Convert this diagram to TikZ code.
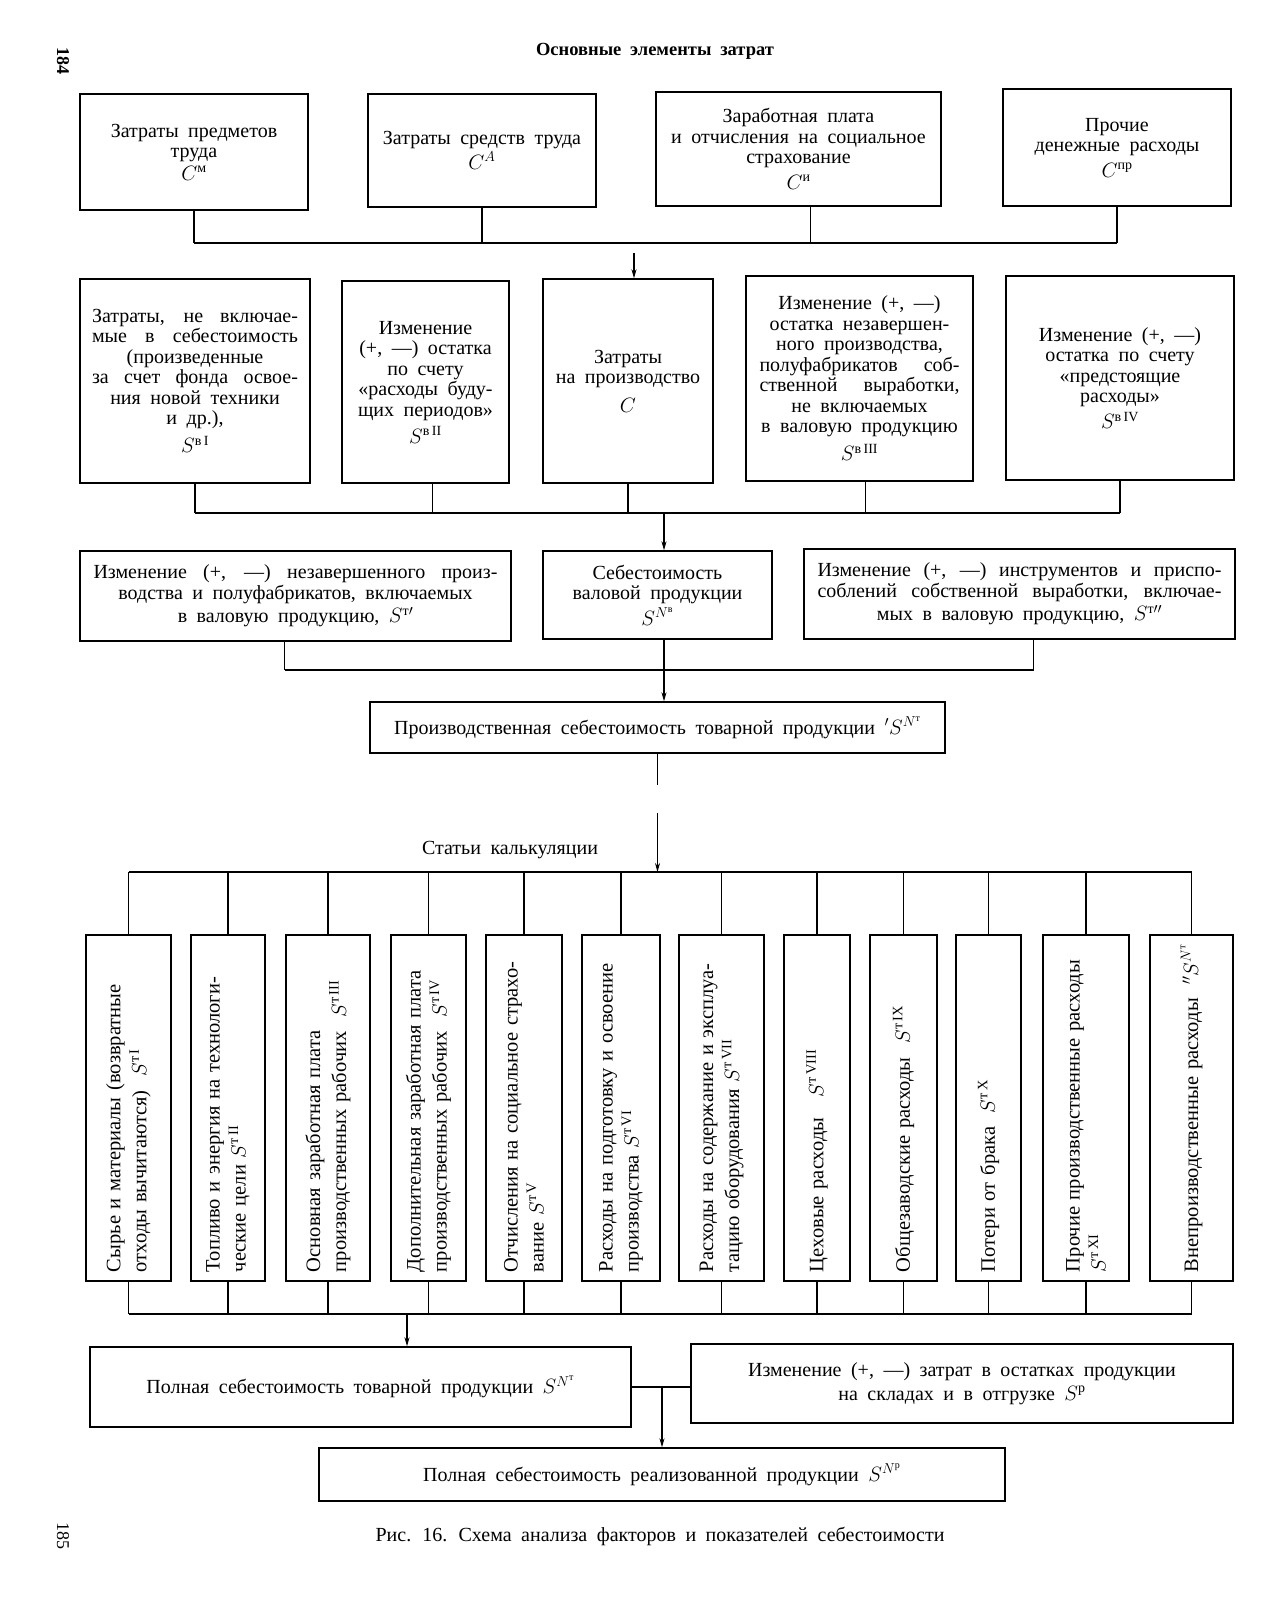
\documentclass[tikz,border=0pt]{standalone}
\usepackage{amsmath}
\usepackage{fontspec}
\setmainfont{Liberation Serif}[WordSpace=1.9]
\newfontfamily\rotfont{Liberation Serif}[WordSpace=1.7]
\usetikzlibrary{arrows.meta}
\newcommand{\tsup}{\text{т}}
\begin{document}
\begin{tikzpicture}[x=1pt,y=-1pt,
  every node/.style={font=\fontsize{20}{20.5}\selectfont, inner sep=0pt},
  ln/.style={line width=1.3pt},
  arr/.style={line width=1.3pt,-{Stealth[length=9pt,width=5pt]}},
  box/.style={draw, line width=1.4pt, align=center},
  vbox/.style={draw, line width=1.4pt, rotate=90, align=left, minimum width=346, text width=328, inner xsep=9pt,
     font=\rotfont\fontsize{20.5}{26}\selectfont}]
\fill[white] (0,0) rectangle (1283,1600);
\useasboundingbox (0,0) rectangle (1283,1600);

% page numbers and titles
\node[rotate=-90, font=\fontsize{18}{18}\bfseries] (p184) at (63,61) {184};
\node[rotate=-90, font=\fontsize{18}{18}\selectfont] (p185) at (63,1536) {185};
\node[font=\fontsize{18.5}{18.5}\bfseries] (ttl) at (655,51) {Основные элементы затрат};

% row 1
\node[box, minimum width=228, minimum height=116] (b11) at (194,152) {Затраты предметов\\труда\\[2pt]$C^{\text{м}}$};
\node[box, minimum width=228, minimum height=113] (b12) at (482,150.5) {Затраты средств труда\\[2pt]$C^{A}$};
\node[box, minimum width=285, minimum height=114] (b13) at (798.5,149) {Заработная плата\\и отчисления на социальное\\страхование\\[5pt]$C^{\text{и}}$};
\node[box, minimum width=228, minimum height=117] (b14) at (1117,147.5) {Прочие\\денежные расходы\\[5pt]$C^{\text{пр}}$};

\coordinate (j1) at (0,243);
\foreach \b/\s in {b11/0,b12/0,b13/12,b14/0} \draw[ln] ([xshift=\s pt]\b.south) -- ([xshift=\s pt]\b.south |- j1);
\draw[ln] (b11.south |- j1) -- (b14.south |- j1);

% row 2
\node[box, minimum width=230, minimum height=204] (b21) at (195,381) {\makebox[206pt][s]{Затраты, не включае-}\\\makebox[206pt][s]{мые в себестоимость}\\(произведенные\\\makebox[206pt][s]{за счет фонда освое-}\\ния новой техники\\и др.),\\[6pt]$S^{\text{в}\,\mathrm{I}}$};
\node[box, minimum width=167, minimum height=202] (b22) at (425.5,382) {Изменение\\(+, —) остатка\\по счету\\«расходы буду-\\щих периодов»\\[5pt]$S^{\text{в}\,\mathrm{II}}$};
\node[box, minimum width=170, minimum height=204] (b23) at (628,381) {Затраты\\на производство\\[8pt]$C$};
\node[box, minimum width=227, minimum height=205] (b24) at (859.5,378.5) {Изменение (+, —)\\остатка незавершен-\\ного производства,\\\makebox[200pt][s]{полуфабрикатов соб-}\\\makebox[200pt][s]{ственной выработки,}\\не включаемых\\в валовую продукцию\\[6pt]$S^{\text{в}\,\mathrm{III}}$};
\node[box, minimum width=228, minimum height=204] (b25) at (1120,378) {Изменение (+, —)\\остатка по счету\\«предстоящие\\расходы»\\[4pt]$S^{\text{в}\,\mathrm{IV}}$};

\coordinate (a1) at (634,253);
\draw[arr] (a1) -- (a1 |- b23.north);

\coordinate (j2) at (0,513);
\foreach \b/\s in {b21/0,b22/7,b23/0,b24/6,b25/0} \draw[ln] ([xshift=\s pt]\b.south) -- ([xshift=\s pt]\b.south |- j2);
\draw[ln] (b21.south |- j2) -- (b25.south |- j2);

% row 3
\node[box, minimum width=431, minimum height=90] (b31) at (295.5,596) {\makebox[404pt][s]{Изменение (+, —) незавершенного произ-}\\водства и полуфабрикатов, включаемых\\[3pt]в валовую продукцию, $S^{\text{т}\prime}$};
\node[box, minimum width=229, minimum height=88] (b32) at (657.5,595) {Себестоимость\\валовой продукции\\[3pt]$S^{N^{\text{в}}}$};
\node[box, minimum width=431, minimum height=90] (b33) at (1019.5,594) {\makebox[404pt][s]{Изменение (+, —) инструментов и приспо-}\\\makebox[404pt][s]{соблений собственной выработки, включае-}\\[3pt]мых в валовую продукцию, $S^{\text{т}\prime\prime}$};

\coordinate (a2) at (664,513);
\draw[arr] (a2) -- (a2 |- b32.north);

\coordinate (j3) at (0,670);
\foreach \b/\s in {b31/-11,b32/6.5,b33/14} \draw[ln] ([xshift=\s pt]\b.south) -- ([xshift=\s pt]\b.south |- j3);
\draw[ln] ([xshift=-11pt]b31.south |- j3) -- ([xshift=14pt]b33.south |- j3);

% row 4
\node[box, minimum width=575, minimum height=51] (b4) at (657.5,727.5) {Производственная себестоимость товарной продукции ${}'S^{N^{\text{т}}}$};
\coordinate (a3) at (664,670);
\draw[arr] (a3) -- (a3 |- b4.north);

\coordinate (g1) at (0,785);
\coordinate (g2) at (0,813);
\coordinate (j5) at (0,872);
\draw[ln] (b4.south) -- (b4.south |- g1);
\draw[arr] (b4.south |- g2) -- (b4.south |- j5);

\node (lbl) at (510,850) {Статьи калькуляции};

% row 5 (vertical boxes)
\node[vbox, minimum height=85] (c1) at (128.5,1108) {Сырье и материалы (возвратные\\отходы вычитаются)\ \ $S^{\tsup\,\mathrm{I}}$};
\node[vbox, minimum height=74] (c2) at (228,1108) {Топливо и энергия на технологи-\\ческие цели $S^{\tsup\,\mathrm{II}}$};
\node[vbox, minimum height=84] (c3) at (328,1108) {Основная заработная плата\\производственных рабочих\ \ $S^{\tsup\,\mathrm{III}}$};
\node[vbox, minimum height=75] (c4) at (428.5,1108) {Дополнительная заработная плата\\производственных рабочих\ \ $S^{\tsup\,\mathrm{IV}}$};
\node[vbox, minimum height=76] (c5) at (524,1108) {Отчисления на социальное страхо-\\вание $S^{\tsup\,\mathrm{V}}$};
\node[vbox, minimum height=78] (c6) at (621,1108) {Расходы на подготовку и освоение\\производства $S^{\tsup\,\mathrm{VI}}$};
\node[vbox, minimum height=85] (c7) at (721.5,1108) {Расходы на содержание и эксплуа-\\тацию оборудования $S^{\tsup\,\mathrm{VII}}$};
\node[vbox, minimum height=66] (c8) at (817,1108) {Цеховые расходы\quad $S^{\tsup\,\mathrm{VIII}}$};
\node[vbox, minimum height=67] (c9) at (903.5,1108) {Общезаводские расходы\ \ $S^{\tsup\,\mathrm{IX}}$};
\node[vbox, minimum height=65] (c10) at (988.5,1108) {Потери от брака\ \ $S^{\tsup\,\mathrm{X}}$};
\node[vbox, minimum height=86] (c11) at (1086,1108) {Прочие производственные расходы\\$S^{\tsup\,\mathrm{XI}}$};
\node[vbox, minimum height=83] (c12) at (1191.5,1108) {Внепроизводственные расходы\ \ ${}''S^{N^{\tsup}}$};

\draw[ln] (c1.east |- j5) -- (c12.east |- j5);
\foreach \c in {c1,c2,c3,c4,c5,c6,c7,c8,c9,c10,c11,c12} \draw[ln] (\c.east |- j5) -- (\c.east);

\coordinate (j6) at (0,1314);
\foreach \c in {c1,c2,c3,c4,c5,c6,c7,c8,c9,c10,c11,c12} \draw[ln] (\c.west) -- (\c.west |- j6);
\draw[ln] (c1.west |- j6) -- (c12.west |- j6);

% row 6
\node[box, minimum width=541, minimum height=80] (b61) at (360.5,1387) {Полная себестоимость товарной продукции $S^{N^{\tsup}}$};
\node[box, minimum width=542, minimum height=79] (b62) at (962,1383.5) {Изменение (+, —) затрат в остатках продукции\\[3pt]на складах и в отгрузке $S^{\text{р}}$};
\coordinate (a6) at (407,1314);
\draw[arr] (a6) -- (a6 |- b61.north);

\node[box, minimum width=686, minimum height=53] (b7) at (662,1474.5) {Полная себестоимость реализованной продукции $S^{N^{\text{р}}}$};
\draw[ln] (b61.east) -- (b61.east -| b62.west);
\draw[arr] (b61.east -| b7.north) -- (b7.north);

\node (cap) at (660,1536) {Рис. 16. Схема анализа факторов и показателей себестоимости};
\end{tikzpicture}
\end{document}
